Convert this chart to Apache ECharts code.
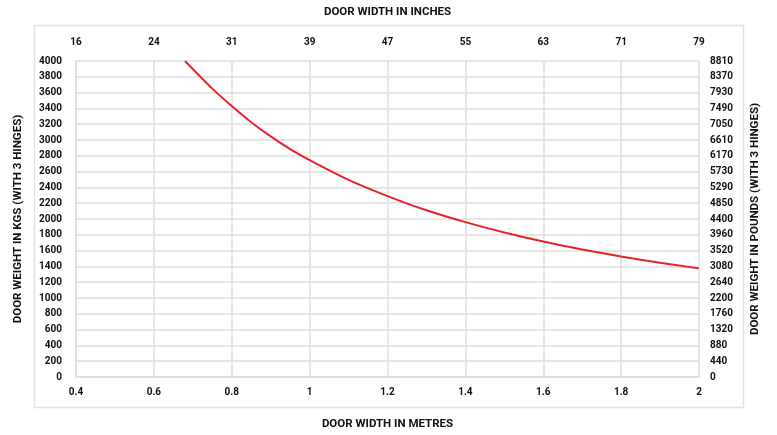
<!DOCTYPE html>
<html>
<head>
<meta charset="utf-8">
<script src="https://cdn.jsdelivr.net/npm/echarts@6/dist/echarts.min.js"></script>
<style>
  html, body { margin: 0; padding: 0; background: #fff; }
  #chart { width: 777px; height: 435px; }
</style>
</head>
<body>
<div id="chart"></div>
<script>
// Door width (m) vs. maximum door weight (kg) for a 3-hinge set
const widthMetres = [0.68, 0.75, 0.80, 0.85, 0.90, 0.95, 1.00, 1.10, 1.20, 1.30, 1.40, 1.50, 1.60, 1.70, 1.80, 1.90, 2.00];
const weightKgs   = [4000, 3650, 3430, 3225, 3045, 2885, 2745, 2495, 2290, 2110, 1960, 1830, 1715, 1615, 1525, 1445, 1375];

// Secondary scale labels
const inchLabels = ['16', '24', '31', '39', '47', '55', '63', '71', '79'];
const poundLabels = ['0', '440', '880', '1320', '1760', '2200', '2640', '3080', '3520', '3960', '4400',
                     '4850', '5290', '5730', '6170', '6610', '7050', '7490', '7930', '8370', '8810'];

const FONT = '"Roboto", sans-serif';
const GRID_COLOR = '#dedede';
const labelStyle = { fontFamily: FONT, fontWeight: 'bold', fontSize: 10, color: '#111' };
const nameStyle = { fontFamily: FONT, fontWeight: 'bold', fontSize: 11.5, color: '#111' };

const chart = echarts.init(document.getElementById('chart'), null, { renderer: 'canvas' });

chart.setOption({
  backgroundColor: '#fff',
  animation: false,
  graphic: [{
    type: 'rect',
    shape: { x: 34.5, y: 25.5, width: 709, height: 382 },
    style: { fill: 'none', stroke: '#e2e2e2', lineWidth: 1.5 },
    silent: true
  }],
  grid: { left: 76, right: 78, top: 61, bottom: 57, containLabel: false },
  xAxis: [{
    type: 'value', min: 0.4, max: 2, interval: 0.2, position: 'bottom',
    name: 'DOOR WIDTH IN METRES', nameLocation: 'middle', nameGap: 41,
    nameTextStyle: nameStyle,
    axisLine: { show: true, lineStyle: { color: GRID_COLOR, width: 1.5 } },
    axisTick: { show: false },
    axisLabel: Object.assign({ margin: 10, formatter: v => String(Math.round(v * 10) / 10) }, labelStyle),
    splitLine: { show: true, lineStyle: { color: GRID_COLOR, width: 1.5 } }
  }, {
    type: 'value', min: 0.4, max: 2, interval: 0.2, position: 'top',
    name: 'DOOR WIDTH IN INCHES', nameLocation: 'middle', nameGap: 43,
    nameTextStyle: nameStyle,
    axisLine: { show: false },
    axisTick: { show: false },
    axisLabel: Object.assign({ margin: 14, formatter: (v, i) => inchLabels[i] }, labelStyle),
    splitLine: { show: false }
  }],
  yAxis: [{
    type: 'value', min: 0, max: 4000, interval: 200, position: 'left',
    name: 'DOOR WEIGHT IN KGS (WITH 3 HINGES)', nameLocation: 'middle', nameGap: 52,
    nameTextStyle: nameStyle,
    axisLine: { show: true, lineStyle: { color: GRID_COLOR, width: 1.5 } },
    axisTick: { show: false },
    axisLabel: Object.assign({ margin: 14, formatter: v => String(v) }, labelStyle),
    splitLine: { show: true, lineStyle: { color: GRID_COLOR, width: 1.5 } }
  }, {
    type: 'value', min: 0, max: 4000, interval: 200, position: 'right',
    name: 'DOOR WEIGHT IN POUNDS (WITH 3 HINGES)', nameLocation: 'middle', nameGap: 50,
    nameTextStyle: nameStyle,
    axisLine: { show: false },
    axisTick: { show: false },
    axisLabel: Object.assign({ margin: 11, formatter: (v, i) => poundLabels[i] }, labelStyle),
    splitLine: { show: false }
  }],
  series: [{
    type: 'line',
    xAxisIndex: 0, yAxisIndex: 0,
    data: widthMetres.map((w, i) => [w, weightKgs[i]]),
    smooth: 0.3,
    showSymbol: false,
    lineStyle: { color: '#e8222a', width: 2 }
  }]
});
</script>
</body>
</html>
